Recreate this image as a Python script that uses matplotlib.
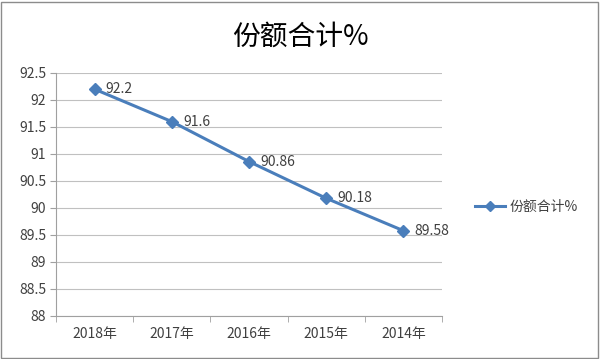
import matplotlib
matplotlib.use("Agg")
import matplotlib.pyplot as plt
from matplotlib.patches import Rectangle

plt.rcParams['font.family'] = ['Noto Sans CJK SC', 'DejaVu Sans']

categories = ["2018年", "2017年", "2016年", "2015年", "2014年"]
values = [92.2, 91.6, 90.86, 90.18, 89.58]
value_labels = ["92.2", "91.6", "90.86", "90.18", "89.58"]
yticks = [88, 88.5, 89, 89.5, 90, 90.5, 91, 91.5, 92, 92.5]
series_name = "份额合计%"
title = "份额合计%"

W, H = 600, 359
fig = plt.figure(figsize=(W/100, H/100), dpi=100)
ax = fig.add_axes([56/W, 1-316/H, (442-56)/W, (316-73)/H])

color = "#4A7EBB"
txtc = "#404040"
x = list(range(len(categories)))
ax.plot(x, values, color=color, lw=2.2, marker="D", ms=6, label=series_name)
for xi, v, lab in zip(x, values, value_labels):
    ax.annotate(lab, (xi, v), xytext=(8, 0), textcoords="offset points",
                va="center", ha="left", fontsize=10, color=txtc)

ax.set_xlim(-0.5, len(categories)-0.5)
ax.set_ylim(88, 92.5)
ax.set_yticks(yticks)
ax.set_yticklabels([("%g" % t) for t in yticks], fontsize=10, color=txtc)
ax.set_xticks(x)
ax.set_xticklabels(categories, fontsize=10, color=txtc)
ax.set_xticks([i-0.5 for i in range(len(categories)+1)], minor=True)
ax.tick_params(axis="x", which="major", length=0, pad=8)
ax.tick_params(axis="x", which="minor", length=4, color="#A0A0A0")
ax.tick_params(axis="y", length=4, color="#A0A0A0", pad=3)
ax.grid(axis="y", color="#C0C0C0", lw=0.8)
ax.set_axisbelow(True)
for s in ["top", "right"]:
    ax.spines[s].set_visible(False)
ax.spines["left"].set_color("#A0A0A0")
ax.spines["bottom"].set_color("#A0A0A0")

fig.text(0.5, 1-37/H, title, ha="center", va="center", fontsize=20, color="#000000")

leg = fig.legend(loc="center left", bbox_to_anchor=(462/W, 1-207/H), frameon=False,
                 fontsize=10, handlelength=2.2, handletextpad=0.3, markerscale=0.8)
for t in leg.get_texts():
    t.set_color(txtc)

fig.patches.append(Rectangle((1/W, 1/H), (W-3)/W, (H-3)/H, transform=fig.transFigure,
                             fill=False, edgecolor="#8C8C8C", lw=1))

fig.savefig("out.png", dpi=100)
